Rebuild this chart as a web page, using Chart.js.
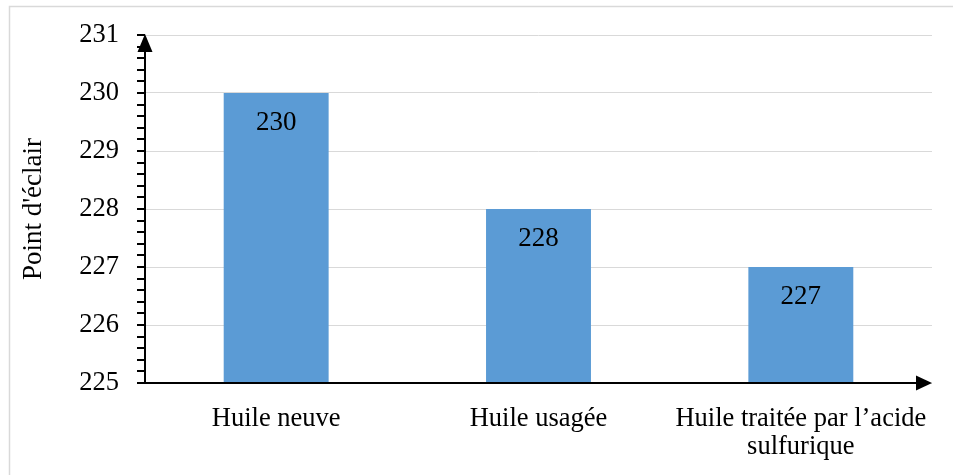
<!DOCTYPE html>
<html>
<head>
<meta charset="utf-8">
<script src="https://cdn.jsdelivr.net/npm/chart.js@4.4.1/dist/chart.umd.min.js"></script>
<style>
  html, body { margin: 0; padding: 0; background: #ffffff; }
  #wrap { width: 953px; height: 475px; position: relative; }
</style>
</head>
<body>
<div id="wrap"><canvas id="c" width="953" height="475"></canvas></div>
<script>
// Flash point of each oil sample
const categories = ['Huile neuve', 'Huile usagée', ['Huile traitée par l\u2019acide', 'sulfurique']];
const flashPoints = [230, 228, 227];
const axisTitle = "Point d'éclair";
const yMin = 225;
const yMax = 231;
const yStep = 1;
const yMinorStep = 0.2;

const SERIF = "'Liberation Serif', 'Times New Roman', serif";
const BAR_COLOR = '#5B9BD5';
const GRID_COLOR = '#D9D9D9';

// Outer frame of the chart
const framePlugin = {
  id: 'frame',
  beforeDraw(chart) {
    const ctx = chart.ctx;
    ctx.save();
    ctx.fillStyle = '#ffffff';
    ctx.fillRect(0, 0, chart.width, chart.height);
    ctx.strokeStyle = GRID_COLOR;
    ctx.lineWidth = 1.5;
    ctx.strokeRect(9.5, 6.5, chart.width, chart.height);
    ctx.restore();
  }
};

// Black axes with arrow heads and outward tick marks
const axesPlugin = {
  id: 'arrowAxes',
  afterDatasetsDraw(chart) {
    const ctx = chart.ctx;
    const y = chart.scales.y;
    const area = chart.chartArea;
    const x0 = area.left;
    const yBase = y.getPixelForValue(yMin);
    const yTop = y.getPixelForValue(yMax);
    ctx.save();
    ctx.strokeStyle = '#000000';
    ctx.fillStyle = '#000000';
    ctx.lineWidth = 2;
    // vertical axis
    ctx.beginPath();
    ctx.moveTo(x0, yBase);
    ctx.lineTo(x0, yTop + 10);
    ctx.stroke();
    // tick marks (major and minor)
    const n = Math.round((yMax - yMin) / yMinorStep);
    for (let i = 0; i <= n; i++) {
      const v = yMin + i * yMinorStep;
      const py = Math.round(y.getPixelForValue(v));
      ctx.beginPath();
      ctx.moveTo(x0 - 8, py);
      ctx.lineTo(x0, py);
      ctx.stroke();
    }
    // up arrow
    ctx.beginPath();
    ctx.moveTo(x0, yTop - 1);
    ctx.lineTo(x0 - 7.5, yTop + 17);
    ctx.lineTo(x0 + 7.5, yTop + 17);
    ctx.closePath();
    ctx.fill();
    // horizontal axis
    ctx.beginPath();
    ctx.moveTo(x0 - 8, yBase);
    ctx.lineTo(area.right - 12, yBase);
    ctx.stroke();
    // right arrow
    ctx.beginPath();
    ctx.moveTo(area.right, yBase);
    ctx.lineTo(area.right - 16, yBase - 7.5);
    ctx.lineTo(area.right - 16, yBase + 7.5);
    ctx.closePath();
    ctx.fill();
    ctx.restore();
  }
};

// Value written inside the top of each bar
const valueLabelPlugin = {
  id: 'valueLabels',
  afterDatasetsDraw(chart) {
    const ctx = chart.ctx;
    const meta = chart.getDatasetMeta(0);
    const data = chart.data.datasets[0].data;
    ctx.save();
    ctx.font = '27px ' + SERIF;
    ctx.fillStyle = '#000000';
    ctx.textAlign = 'center';
    ctx.textBaseline = 'middle';
    meta.data.forEach((bar, i) => {
      ctx.fillText(String(data[i]), bar.x, bar.y + 30);
    });
    ctx.restore();
  }
};

new Chart(document.getElementById('c'), {
  type: 'bar',
  data: {
    labels: categories,
    datasets: [{
      data: flashPoints,
      backgroundColor: BAR_COLOR,
      borderWidth: 0,
      barPercentage: 0.4,
      categoryPercentage: 1.0
    }]
  },
  options: {
    responsive: false,
    animation: false,
    devicePixelRatio: 1,
    layout: { padding: { top: 35, right: 21, bottom: 0, left: 0 } },
    plugins: { legend: { display: false }, tooltip: { enabled: false } },
    scales: {
      x: {
        grid: { display: false, drawTicks: false },
        border: { display: false },
        ticks: {
          color: '#000000',
          font: { family: SERIF, size: 26.5, lineHeight: 1.06 },
          padding: 22,
          maxRotation: 0,
          autoSkip: false
        },
        afterFit(scale) { scale.height = 92; }
      },
      y: {
        min: yMin,
        max: yMax,
        grid: { color: GRID_COLOR, lineWidth: 1, drawTicks: false },
        border: { display: false },
        ticks: {
          stepSize: yStep,
          color: '#000000',
          font: { family: SERIF, size: 26.5 },
          padding: 26
        },
        title: {
          display: true,
          text: axisTitle,
          color: '#000000',
          font: { family: SERIF, size: 27 },
          padding: { top: 18, bottom: 0 }
        },
        afterFit(scale) { scale.width = 145; scale.paddingTop = 0; scale.paddingBottom = 0; }
      }
    }
  },
  plugins: [framePlugin, axesPlugin, valueLabelPlugin]
});
</script>
</body>
</html>
